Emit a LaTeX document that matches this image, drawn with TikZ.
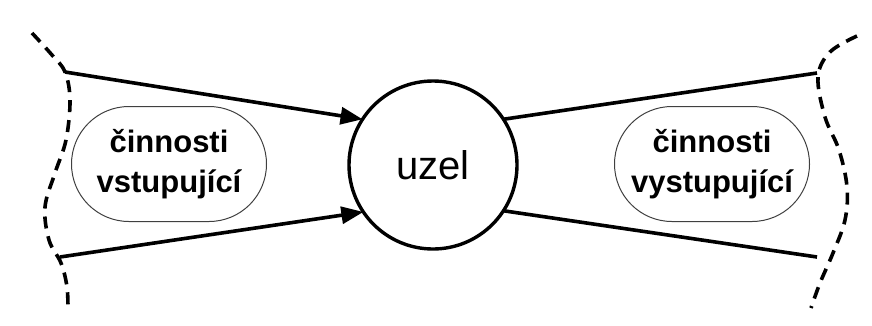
\documentclass[tikz,border=0pt]{standalone}
\usepackage{fontspec}
\setmainfont{Liberation Sans}
\usetikzlibrary{arrows.meta,shapes.misc}
\begin{document}
\begin{tikzpicture}[x=1pt,y=-1pt,
  flow/.style={line width=3.6pt},
  inflow/.style={flow,-{Triangle[length=22pt,width=17pt]}},
  boundary/.style={line width=3.6pt,dash pattern=on 12pt off 8pt},
  activity/.style={rounded rectangle,draw=black!75,line width=1pt,
    minimum width=195pt,minimum height=115pt,inner sep=0pt,
    align=center,font=\fontsize{31}{40}\selectfont\bfseries},
  nodecircle/.style={circle,draw,line width=3.4pt,minimum size=168pt,
    inner sep=0pt,outer sep=0pt,font=\fontsize{40}{44}\selectfont}]
  \useasboundingbox (0,0) rectangle (872,325);

  % central node
  \node[nodecircle] (uzel) at (433,165) {uzel};

  % groups of activities
  \node[activity] (vst) at (169,164) {činnosti\\vstupující};
  \node[activity] (vyst) at (712,164) {činnosti\\vystupující};

  % ends of the connectors on the boundaries
  \coordinate (inTop) at (65,72);
  \coordinate (inBot) at (60,257);
  \coordinate (outTop) at (817,73);
  \coordinate (outBot) at (817,257);

  % incoming and outgoing activities
  \draw[inflow] (inTop) -- (uzel.147.6);
  \draw[inflow] (inBot) -- (uzel.214);
  \draw[flow] (uzel.33.9) -- (outTop);
  \draw[flow] (uzel.-33.9) -- (outBot);

  % dashed boundaries
  \draw[boundary] plot[smooth,tension=0.6] coordinates
    {(32,33) (52,55) (65,72) (70,100) (66,140) (55,173) (45,207)
     (49,240) (61,263) (67,287) (68,312)};
  \draw[boundary] plot[smooth,tension=0.6] coordinates
    {(857,36) (830,52) (818,77) (825,117) (839,150) (847,187)
     (845,220) (833,253) (820,283) (811,308)};
\end{tikzpicture}
\end{document}
